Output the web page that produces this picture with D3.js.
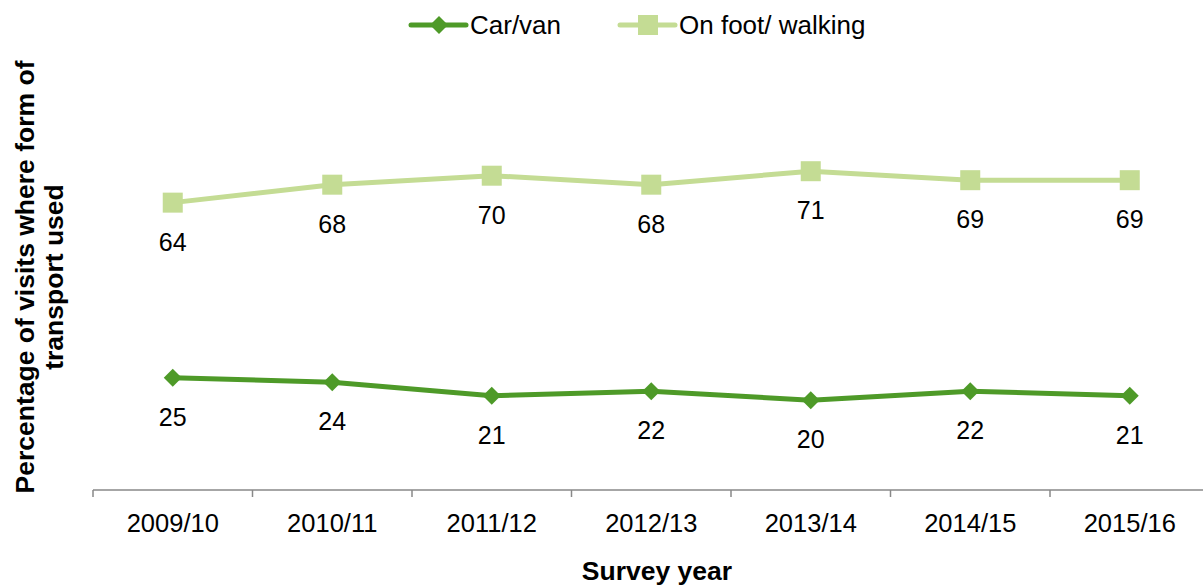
<!DOCTYPE html>
<html><head><meta charset="utf-8">
<script src="https://cdn.jsdelivr.net/npm/d3@7"></script>
<style>body{margin:0;background:#fff;} svg{display:block;font-family:"Liberation Sans",Arial,sans-serif;}</style>
</head><body>
<svg id="c" width="1203" height="585"></svg>
<script>
const categories = ["2009/10","2010/11","2011/12","2012/13","2013/14","2014/15","2015/16"];
const carVan = [25,24,21,22,20,22,21];
const onFoot = [64,68,70,68,71,69,69];
const seriesNames = ["Car/van","On foot/ walking"];
const colors = ["#4e9a28","#c4dc94"];

const svg = d3.select("#c");
const x0 = 93, bw = 159.5;
const x = d3.scaleBand().domain(categories).range([x0, x0 + bw*categories.length]).padding(0);
const y = d3.scaleLinear().domain([0,100]).range([490, 41]);

// axis
const ax = svg.append("g").attr("transform","translate(0,490)");
ax.append("line").attr("x1",x0).attr("x2",x0+bw*categories.length).attr("stroke","#898989").attr("stroke-width",1.5);
const tickPos = d3.range(categories.length+1).map(i => x0 + i*bw);
ax.selectAll("line.t").data(tickPos).join("line").attr("class","t")
  .attr("x1",d=>d).attr("x2",d=>d).attr("y1",0).attr("y2",7).attr("stroke","#898989").attr("stroke-width",1.5);
ax.selectAll("text").data(categories).join("text")
  .attr("x",d=>x(d)+x.bandwidth()/2).attr("y",42).attr("text-anchor","middle")
  .attr("font-size",25.5).attr("fill","#000").text(d=>d);

const cx = d => x(d) + x.bandwidth()/2;
const line = d3.line().x((d,i)=>cx(categories[i])).y(d=>y(d));

function drawSeries(vals, color, marker){
  svg.append("path").datum(vals).attr("d",line).attr("fill","none")
    .attr("stroke",color).attr("stroke-width",5).attr("stroke-linejoin","round");
  const g = svg.append("g");
  vals.forEach((v,i)=>{
    const px = cx(categories[i]), py = y(v);
    if(marker==="diamond"){
      g.append("path").attr("d",`M${px},${py-9}L${px+9},${py}L${px},${py+9}L${px-9},${py}Z`).attr("fill",color);
    } else {
      g.append("rect").attr("x",px-10).attr("y",py-10).attr("width",20).attr("height",20).attr("fill",color);
    }
    g.append("text").attr("x",px).attr("y",py+48).attr("text-anchor","middle")
      .attr("font-size",25).attr("fill","#000").text(v);
  });
}
drawSeries(onFoot, colors[1], "square");
drawSeries(carVan, colors[0], "diamond");

// legend
const lg = svg.append("g");
const leg = [{n:seriesNames[0],c:colors[0],m:"diamond",x:411},{n:seriesNames[1],c:colors[1],m:"square",x:620}];
leg.forEach(l=>{
  lg.append("line").attr("x1",l.x).attr("x2",l.x+55).attr("y1",25).attr("y2",25).attr("stroke",l.c).attr("stroke-width",5).attr("stroke-linecap","round");
  const mx = l.x+28;
  if(l.m==="diamond") lg.append("path").attr("d",`M${mx},16L${mx+9},25L${mx},34L${mx-9},25Z`).attr("fill",l.c);
  else lg.append("rect").attr("x",mx-10).attr("y",15).attr("width",20).attr("height",20).attr("fill",l.c);
  lg.append("text").attr("x",l.x+59).attr("y",34).attr("font-size",26).attr("fill","#000").text(l.n);
});

// axis titles
svg.append("text").attr("x",657).attr("y",580).attr("text-anchor","middle").attr("font-size",26.5).attr("font-weight","bold").text("Survey year");
const yt = svg.append("text").attr("transform","translate(0,277) rotate(-90)").attr("text-anchor","middle").attr("font-size",26.5).attr("font-weight","bold");
yt.append("tspan").attr("x",0).attr("y",34).text("Percentage of visits where form of");
yt.append("tspan").attr("x",0).attr("y",63).text("transport used");
</script>
</body></html>
